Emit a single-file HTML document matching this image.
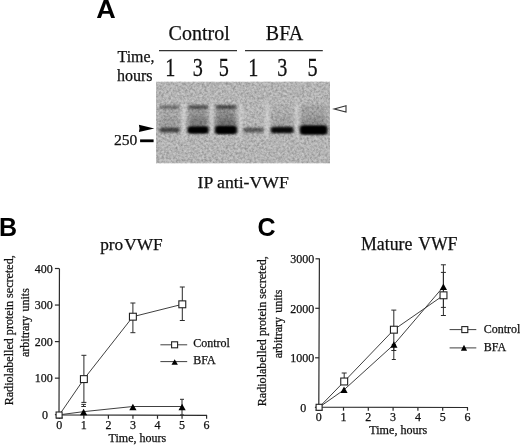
<!DOCTYPE html>
<html><head><meta charset="utf-8"><title>Figure</title>
<style>
html,body{margin:0;padding:0;background:#fff;}
svg{display:block}
text{font-family:"Liberation Serif", serif;fill:#111;stroke:#111;stroke-width:0.25px}
.pl{font-family:"Liberation Sans", sans-serif;font-weight:bold;font-size:25px;fill:#000;stroke:none}
.ax{stroke:#2a2a2a;stroke-width:1.2;fill:none}
.ln{stroke:#2a2a2a;stroke-width:0.9;fill:none}
.eb{stroke:#2a2a2a;stroke-width:1;fill:none}
.sq{fill:#fff;stroke:#222;stroke-width:1.1}
.tr{fill:#000;stroke:none}
.t12{font-size:12px}
</style></head><body>
<svg width="520" height="445" viewBox="0 0 520 445">
<rect width="520" height="445" fill="#fff"/>
<defs>
<filter id="b1" x="-20%" y="-100%" width="140%" height="300%"><feGaussianBlur stdDeviation="1.6 1.3"/></filter>
<filter id="b2" x="-20%" y="-100%" width="140%" height="300%"><feGaussianBlur stdDeviation="2.5 3"/></filter>
<filter id="b3" x="-100%" y="-20%" width="300%" height="140%"><feGaussianBlur stdDeviation="1.8 4"/></filter>
<filter id="noise" x="0" y="0" width="100%" height="100%">
<feTurbulence type="fractalNoise" baseFrequency="0.42" numOctaves="2" seed="7" result="n"/>
<feColorMatrix in="n" type="matrix" values="0 0 0 0 0  0 0 0 0 0  0 0 0 0 0  1.6 0 0 0 -0.55"/>
</filter>
<filter id="noiseW" x="0" y="0" width="100%" height="100%">
<feTurbulence type="fractalNoise" baseFrequency="0.45" numOctaves="2" seed="23" result="n"/>
<feColorMatrix in="n" type="matrix" values="0 0 0 0 1  0 0 0 0 1  0 0 0 0 1  1.6 0 0 0 -0.6"/>
</filter>
<clipPath id="gc"><rect x="156" y="81.5" width="174" height="82"/></clipPath>
</defs>

<text class="pl" transform="translate(106 18.2) scale(1.08 1)" text-anchor="middle">A</text>
<text x="168.6" y="40" font-size="20">Control</text>
<text x="265.8" y="40" font-size="20">BFA</text>
<line x1="159" y1="50.6" x2="237" y2="50.6" stroke="#333" stroke-width="1.2"/>
<line x1="245" y1="50.6" x2="322.8" y2="50.6" stroke="#333" stroke-width="1.2"/>
<text x="117.5" y="61.6" font-size="15.9">Time,</text>
<text x="116.9" y="81.2" font-size="16">hours</text>
<text transform="translate(170.4 76.4) scale(0.92 1.14)" font-size="22" text-anchor="middle">1</text>
<text transform="translate(197.7 76.4) scale(0.92 1.14)" font-size="22" text-anchor="middle">3</text>
<text transform="translate(223.7 76.4) scale(0.92 1.14)" font-size="22" text-anchor="middle">5</text>
<text transform="translate(253.3 76.4) scale(0.92 1.14)" font-size="22" text-anchor="middle">1</text>
<text transform="translate(282.2 76.4) scale(0.92 1.14)" font-size="22" text-anchor="middle">3</text>
<text transform="translate(312.5 76.4) scale(0.92 1.14)" font-size="22" text-anchor="middle">5</text>
<g clip-path="url(#gc)">
<rect x="156" y="81.5" width="174" height="82" fill="#bcbcbc"/>
<rect x="156" y="81.5" width="174" height="82" fill="#000" filter="url(#noise)" opacity="0.30"/>
<rect x="156" y="81.5" width="174" height="82" fill="#fff" filter="url(#noiseW)" opacity="0.35"/>
<rect x="181.8" y="103" width="4.4" height="34" fill="#e4e4e4" opacity="0.5" filter="url(#b3)"/>
<rect x="209.60000000000002" y="103" width="4.4" height="34" fill="#e4e4e4" opacity="0.5" filter="url(#b3)"/>
<rect x="238.10000000000002" y="103" width="4.4" height="34" fill="#e4e4e4" opacity="0.5" filter="url(#b3)"/>
<rect x="265.1" y="103" width="4.4" height="34" fill="#e4e4e4" opacity="0.5" filter="url(#b3)"/>
<rect x="294.8" y="103" width="4.4" height="34" fill="#e4e4e4" opacity="0.5" filter="url(#b3)"/>
<rect x="160.2" y="108" width="19.100000000000023" height="20" fill="#000" opacity="0.08" filter="url(#b2)"/>
<rect x="160.2" y="119" width="19.100000000000023" height="9" fill="#000" opacity="0.08" filter="url(#b2)"/>
<rect x="188.4" y="108" width="19.299999999999983" height="20" fill="#000" opacity="0.2" filter="url(#b2)"/>
<rect x="188.4" y="119" width="19.299999999999983" height="9" fill="#000" opacity="0.2" filter="url(#b2)"/>
<rect x="215.9" y="108" width="20.099999999999994" height="20" fill="#000" opacity="0.24" filter="url(#b2)"/>
<rect x="215.9" y="119" width="20.099999999999994" height="9" fill="#000" opacity="0.24" filter="url(#b2)"/>
<rect x="271.5" y="108" width="21.30000000000001" height="20" fill="#000" opacity="0.06" filter="url(#b2)"/>
<rect x="271.5" y="119" width="21.30000000000001" height="9" fill="#000" opacity="0.06" filter="url(#b2)"/>
<rect x="300.8" y="108" width="25.69999999999999" height="20" fill="#000" opacity="0.12" filter="url(#b2)"/>
<rect x="300.8" y="119" width="25.69999999999999" height="9" fill="#000" opacity="0.12" filter="url(#b2)"/>
<rect x="160.2" y="105.3" width="19.100000000000023" height="3.6" fill="#000" opacity="0.38" filter="url(#b1)"/>
<rect x="188.4" y="105.3" width="19.299999999999983" height="3.6" fill="#000" opacity="0.55" filter="url(#b1)"/>
<rect x="215.9" y="105.3" width="20.099999999999994" height="3.6" fill="#000" opacity="0.6" filter="url(#b1)"/>
<rect x="300.8" y="105.3" width="25.69999999999999" height="3.6" fill="#000" opacity="0.06" filter="url(#b1)"/>
<rect x="159.5" y="127.6" width="20.50000000000002" height="4.8" rx="2" fill="#000" opacity="0.62" filter="url(#b1)"/>
<rect x="187.70000000000002" y="126.6" width="20.69999999999998" height="6.8" rx="2" fill="#000" opacity="1" filter="url(#b1)"/>
<rect x="188.9" y="127.6" width="18.299999999999983" height="4.8" rx="2" fill="#000" opacity="0.8" filter="url(#b1)"/>
<rect x="215.20000000000002" y="126.0" width="21.499999999999993" height="8.0" rx="2" fill="#000" opacity="1" filter="url(#b1)"/>
<rect x="216.4" y="127.0" width="19.099999999999994" height="6.0" rx="2" fill="#000" opacity="0.8" filter="url(#b1)"/>
<rect x="243.10000000000002" y="127.6" width="20.4" height="4.8" rx="2" fill="#000" opacity="0.5" filter="url(#b1)"/>
<rect x="270.8" y="126.7" width="22.70000000000001" height="6.6" rx="2" fill="#000" opacity="0.95" filter="url(#b1)"/>
<rect x="300.1" y="125.6" width="27.099999999999987" height="8.8" rx="2" fill="#000" opacity="1" filter="url(#b1)"/>
<rect x="301.3" y="126.6" width="24.69999999999999" height="6.800000000000001" rx="2" fill="#000" opacity="0.8" filter="url(#b1)"/>
</g>
<path d="M138.9 124.7 L154.3 128.4 L138.9 132.1 L139.5 128.4 Z" fill="#000"/>
<path d="M346 105.8 L334.2 109 L346 112.1 Z" fill="#fff" stroke="#333" stroke-width="1.1" stroke-linejoin="miter"/>
<text x="114" y="144.8" font-size="15.6">250</text>
<rect x="140.1" y="139.4" width="13.5" height="2.8" fill="#000"/>
<text x="197.6" y="188" font-size="17.7">IP anti-VWF</text>
<text class="pl" x="-0.9" y="236">B</text>
<text x="100.2" y="249.7" font-size="17.3">pro<tspan dx="1.0">VWF</tspan></text>
<path class="ax" d="M59.449999999999996 268.40000000000003 L59.0 414.8 L207.10000000000002 415.40000000000003"/>
<line class="ax" x1="54.9" y1="414.7" x2="59.3" y2="414.7"/>
<line class="ax" x1="54.9" y1="378.15" x2="59.3" y2="378.15"/>
<text class="t12" x="52.8" y="382.35" text-anchor="end">100</text>
<line class="ax" x1="54.9" y1="341.6" x2="59.3" y2="341.6"/>
<text class="t12" x="52.8" y="345.80000000000007" text-anchor="end">200</text>
<line class="ax" x1="54.9" y1="305.05" x2="59.3" y2="305.05"/>
<text class="t12" x="52.8" y="309.25000000000006" text-anchor="end">300</text>
<line class="ax" x1="54.9" y1="268.5" x2="59.3" y2="268.5"/>
<text class="t12" x="52.8" y="272.70000000000005" text-anchor="end">400</text>
<text class="t12" x="45" y="419.1" text-anchor="middle">0</text>
<line class="ax" x1="59.3" y1="414.8" x2="59.3" y2="418.8"/>
<text class="t12" x="59.3" y="428.8" text-anchor="middle">0</text>
<line class="ax" x1="83.85" y1="414.90000000000003" x2="83.85" y2="418.8"/>
<text class="t12" x="83.85" y="428.8" text-anchor="middle">1</text>
<line class="ax" x1="108.4" y1="415.0" x2="108.4" y2="418.8"/>
<text class="t12" x="108.4" y="428.8" text-anchor="middle">2</text>
<line class="ax" x1="132.95" y1="415.1" x2="132.95" y2="418.8"/>
<text class="t12" x="132.95" y="428.8" text-anchor="middle">3</text>
<line class="ax" x1="157.5" y1="415.2" x2="157.5" y2="418.8"/>
<text class="t12" x="157.5" y="428.8" text-anchor="middle">4</text>
<line class="ax" x1="182.05" y1="415.3" x2="182.05" y2="418.8"/>
<text class="t12" x="182.05" y="428.8" text-anchor="middle">5</text>
<line class="ax" x1="206.60000000000002" y1="415.40000000000003" x2="206.60000000000002" y2="418.8"/>
<text class="t12" x="206.60000000000002" y="428.8" text-anchor="middle">6</text>
<text x="137.4" y="442.4" font-size="12" text-anchor="middle">Time, hours</text>
<text transform="translate(12.9 330.3) rotate(-90)" font-size="12.1" text-anchor="middle">Radiolabelled protein secreted,</text>
<text class="t12" transform="translate(28.9 322.6) rotate(-90)" word-spacing="1.2" text-anchor="middle">arbitrary units</text>
<polyline class="ln" points="59.4,414.8 83.9,379.1 132.9,316.7 182.3,304.3"/>
<polyline class="ln" points="59.4,414.8 83.6,411.65 132.9,406.5 182.1,406.5"/>
<path class="eb" d="M83.90 355.30 V402.40 M81.40 355.30 h5 M81.40 402.40 h5"/>
<path class="eb" d="M132.90 303.00 V332.70 M130.40 303.00 h5 M130.40 332.70 h5"/>
<path class="eb" d="M182.30 287.00 V320.50 M179.80 287.00 h5 M179.80 320.50 h5"/>
<path class="eb" d="M83.60 404.40 V406.50 M81.30 404.40 h4.6 M81.30 406.50 h4.6"/>
<path class="eb" d="M182.00 399.30 V415.00 M180.00 399.30 h4 M180.00 415.00 h4"/>
<path class="tr" d="M55.80 418.45 L63.00 418.45 L59.40 411.95 Z"/>
<path class="tr" d="M80.00 415.30 L87.20 415.30 L83.60 408.80 Z"/>
<path class="tr" d="M129.30 410.15 L136.50 410.15 L132.90 403.65 Z"/>
<path class="tr" d="M178.50 410.15 L185.70 410.15 L182.10 403.65 Z"/>
<rect class="sq" x="56.10" y="412.00" width="6.0" height="6.0"/>
<rect class="sq" x="80.45" y="375.65" width="6.9" height="6.9"/>
<rect class="sq" x="129.45" y="313.25" width="6.9" height="6.9"/>
<rect class="sq" x="178.85" y="300.85" width="6.9" height="6.9"/>
<line class="ln" x1="160.4" y1="344.8" x2="187.2" y2="344.8"/>
<rect class="sq" x="171.60" y="341.80" width="6" height="6"/>
<line class="ln" x1="160.4" y1="361.6" x2="187.2" y2="361.6"/>
<path class="tr" d="M171.50 364.70 L177.90 364.70 L174.70 359.30 Z"/>
<text class="t12" x="193.2" y="346.9">Control</text>
<text class="t12" x="193.2" y="364.2">BFA</text>
<text class="pl" x="257.4" y="236.3">C</text>
<text x="361" y="250.2" font-size="17.8">Mature <tspan dx="1.4" letter-spacing="-0.15">VWF</tspan></text>
<path class="ax" d="M319.4 258.6 L318.8 407.1 L468.0 407.5"/>
<line class="ax" x1="314.9" y1="407.3" x2="318.9" y2="407.3"/>
<line class="ax" x1="315.09999999999997" y1="357.8" x2="319.09999999999997" y2="357.8"/>
<text class="t12" x="314.2" y="362.0" text-anchor="end">1000</text>
<line class="ax" x1="315.29999999999995" y1="308.3" x2="319.29999999999995" y2="308.3"/>
<text class="t12" x="314.2" y="312.5" text-anchor="end">2000</text>
<line class="ax" x1="315.5" y1="258.8" x2="319.5" y2="258.8"/>
<text class="t12" x="314.2" y="263.0" text-anchor="end">3000</text>
<text class="t12" x="303.2" y="412.1" text-anchor="middle">0</text>
<line class="ax" x1="318.7" y1="407.1" x2="318.7" y2="410.7"/>
<text class="t12" x="318.7" y="421.4" text-anchor="middle">0</text>
<line class="ax" x1="343.5" y1="407.17" x2="343.5" y2="410.7"/>
<text class="t12" x="343.5" y="421.4" text-anchor="middle">1</text>
<line class="ax" x1="368.3" y1="407.24" x2="368.3" y2="410.7"/>
<text class="t12" x="368.3" y="421.4" text-anchor="middle">2</text>
<line class="ax" x1="393.1" y1="407.31" x2="393.1" y2="410.7"/>
<text class="t12" x="393.1" y="421.4" text-anchor="middle">3</text>
<line class="ax" x1="417.9" y1="407.38" x2="417.9" y2="410.7"/>
<text class="t12" x="417.9" y="421.4" text-anchor="middle">4</text>
<line class="ax" x1="442.7" y1="407.45000000000005" x2="442.7" y2="410.7"/>
<text class="t12" x="442.7" y="421.4" text-anchor="middle">5</text>
<line class="ax" x1="467.5" y1="407.52000000000004" x2="467.5" y2="410.7"/>
<text class="t12" x="467.5" y="421.4" text-anchor="middle">6</text>
<text x="398.3" y="434.2" font-size="12.1" text-anchor="middle">Time, hours</text>
<text transform="translate(266.2 331.2) rotate(-90)" font-size="12.1" text-anchor="middle">Radiolabelled protein secreted,</text>
<text class="t12" transform="translate(281.5 323.9) rotate(-90)" word-spacing="1.2" text-anchor="middle">arbitrary units</text>
<polyline class="ln" points="319.1,407.3 344.2,381.5 393.9,329.7 443.5,295.3"/>
<polyline class="ln" points="319.1,407.3 344,389.8 393.9,344.6 443.4,286.7"/>
<path class="eb" d="M344.20 373.00 V381.50 M341.70 373.00 h5 M341.70 381.50 h5"/>
<path class="eb" d="M393.80 310.10 V350.50 M391.30 310.10 h5 M391.30 350.50 h5"/>
<path class="eb" d="M443.40 272.40 V315.50 M440.90 272.40 h5 M440.90 315.50 h5"/>
<path class="eb" d="M393.80 344.60 V359.50 M391.80 344.60 h4 M391.80 359.50 h4"/>
<path class="eb" d="M443.40 264.80 V307.40 M440.90 264.80 h5 M440.90 307.40 h5"/>
<path class="tr" d="M315.50 410.55 L322.70 410.55 L319.10 404.05 Z"/>
<path class="tr" d="M340.40 393.05 L347.60 393.05 L344.00 386.55 Z"/>
<path class="tr" d="M390.30 347.85 L397.50 347.85 L393.90 341.35 Z"/>
<path class="tr" d="M439.80 289.95 L447.00 289.95 L443.40 283.45 Z"/>
<rect class="sq" x="316.10" y="404.30" width="6.0" height="6.0"/>
<rect class="sq" x="340.75" y="378.05" width="6.9" height="6.9"/>
<rect class="sq" x="390.45" y="326.25" width="6.9" height="6.9"/>
<rect class="sq" x="440.05" y="291.85" width="6.9" height="6.9"/>
<line class="ln" x1="449.6" y1="329.6" x2="476.3" y2="329.6"/>
<rect class="sq" x="461.80" y="326.60" width="6" height="6"/>
<line class="ln" x1="449.6" y1="347.9" x2="476.3" y2="347.9"/>
<path class="tr" d="M460.90 350.70 L467.10 350.70 L464.00 344.70 Z"/>
<text class="t12" x="483.7" y="332.9">Control</text>
<text class="t12" x="483.7" y="351.4">BFA</text>
</svg></body></html>
